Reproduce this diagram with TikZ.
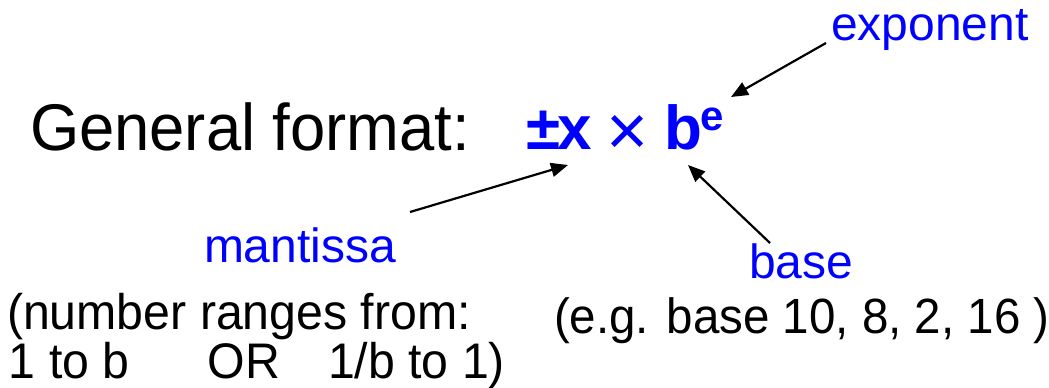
\documentclass[tikz,border=0pt]{standalone}
\usepackage{fontspec}
\setmainfont{Liberation Sans}
\newfontfamily\condfont{Liberation Sans}[FakeStretch=0.96]
\newfontfamily\condnote{Liberation Sans}[FakeStretch=0.965]
\newfontfamily\condeg{Liberation Sans}[FakeStretch=0.96]
\usetikzlibrary{arrows.meta}
\definecolor{lblue}{RGB}{0,0,255}
\tikzset{
  txt/.style={anchor=base west, inner sep=0pt, outer sep=0pt},
  lbl/.style={txt, text=lblue, font=\fontsize{48}{56}\selectfont},
  big/.style={txt, font=\condfont\fontsize{66}{76}\selectfont},
  frm/.style={txt, text=lblue, font=\fontsize{62}{70}\selectfont\bfseries},
  note/.style={txt, font=\condnote\fontsize{50}{51}\selectfont},
  arr/.style={line width=2.2pt, -{Triangle[length=17pt,width=14pt]}}
}
\begin{document}
\begin{tikzpicture}[x=1pt,y=-1pt]
\useasboundingbox (0,0) rectangle (1049,388);
\node[big] (gen) at (30,150) {General format:};
\node[frm] (pm) at (526,149) {±};
\node[frm] (xx) at (557,149) {x};
\node[frm, font=\fontsize{72}{80}\selectfont] (times) at (606,155) {×};
\node[frm] (bb) at (664,149) {b};
\node[frm, font=\fontsize{42}{50}\selectfont\bfseries] (ee) at (700,130) {e};
\node[lbl] (expo) at (831,40) {exponent};
\node[lbl] (mant) at (204,262) {mantissa};
\node[lbl] (base) at (749,278) {base};
\node[note, font=\condeg\fontsize{49.5}{51}\selectfont] (eg) at (554,333) {(e.g. base 10, 8, 2, 16 )};
\node[note] (rng1) at (7,329) {(number ranges from:};
\node[note] (rng2) at (9,378) {1 to b\hspace{78pt}OR\hspace{48pt}1/b to 1)};
\coordinate (mtip) at (568,165);
\coordinate (btip) at (688,165);
\coordinate (etip) at (731,97);
\coordinate (mtail) at (410,212);
\coordinate (btail) at (770,243);
\coordinate (etail) at (826,43);
\draw[arr] (mtail) -- (mtip);
\draw[arr] (btail) -- (btip);
\draw[arr] (etail) -- (etip);
\end{tikzpicture}
\end{document}
